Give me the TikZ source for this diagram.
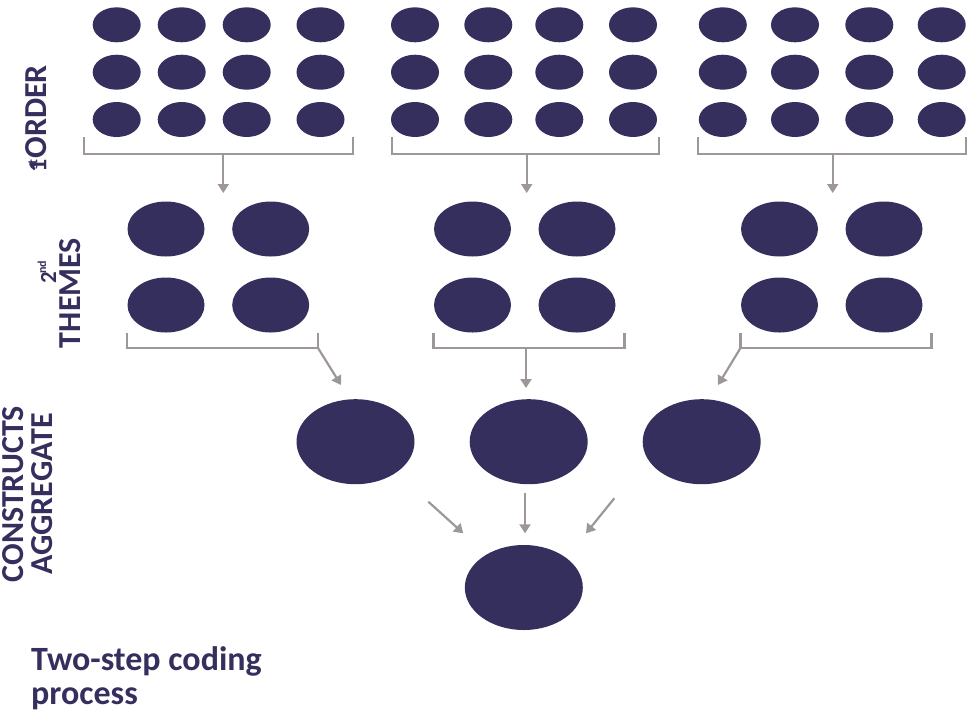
\documentclass[tikz,border=0pt]{standalone}
\usepackage{fontspec}
\setmainfont{Carlito}
\usetikzlibrary{shapes.geometric,arrows.meta}
\definecolor{ink}{HTML}{352F5E}
\definecolor{wire}{HTML}{9D9799}
\begin{document}
\begin{tikzpicture}[x=1pt,y=-1pt,
  dot/.style={ellipse,fill=ink,inner sep=0pt,minimum width=48pt,minimum height=35pt},
  theme/.style={ellipse,fill=ink,inner sep=0pt,minimum width=77pt,minimum height=55pt},
  construct/.style={ellipse,fill=ink,inner sep=0pt,minimum width=118pt,minimum height=85pt},
  bracket/.style={draw=wire,line width=2.2pt},
  flow/.style={draw=wire,line width=2.2pt,-{Triangle[length=9pt,width=11pt]}},
  sidelabel/.style={text=ink,font=\fontsize{32}{29}\selectfont\bfseries,rotate=90,inner sep=0pt},
  title/.style={text=ink,font=\fontsize{34}{31}\selectfont\bfseries,align=left,inner sep=0pt}]
\useasboundingbox (0,0) rectangle (968,713);

% first-order codes: three groups of 4 x 3
\foreach \g/\xa/\xb/\xc/\xd in {1/116.7/181.7/246.7/320.5,2/415/488.3/559.3/633,3/722.8/795/869.3/941.7}{
  \foreach \r/\y in {1/24.8,2/72.2,3/119.5}{
    \node[dot] (s\g\r1) at (\xa,\y) {};
    \node[dot] (s\g\r2) at (\xb,\y) {};
    \node[dot] (s\g\r3) at (\xc,\y) {};
    \node[dot] (s\g\r4) at (\xd,\y) {};
  }
}

% brackets under the first-order groups
\foreach \g/\l/\m/\r in {1/84/223.3/353.3,2/391.7/526.7/659.3,3/698.3/832.7/965.7}{
  \draw[bracket] (\l,137) -- (\l,154) -- (\r,154) -- (\r,137);
  \coordinate (fb\g) at (\m,154);
  \coordinate (ft\g) at (\m,193);
  \draw[flow] (fb\g) -- (ft\g);
}

% second-order themes: three groups of 2 x 2
\foreach \g/\xa/\xb in {1/166/270.7,2/472.5/577,3/779.5/884}{
  \node[theme] (t\g11) at (\xa,229) {};
  \node[theme] (t\g12) at (\xb,229) {};
  \node[theme] (t\g21) at (\xa,305) {};
  \node[theme] (t\g22) at (\xb,305) {};
}

% brackets under the themes
\draw[bracket] (127,333) -- (127,348) -- (318,348) -- (318,333);
\draw[bracket] (433.5,333) -- (433.5,348) -- (624.5,348) -- (624.5,333);
\draw[bracket] (740.5,333) -- (740.5,348) -- (931.5,348) -- (931.5,333);
\coordinate (sb1) at (318,348);
\coordinate (st1) at (341,385);
\coordinate (sb2) at (526,348);
\coordinate (st2) at (526,388);
\coordinate (sb3) at (740.5,348);
\coordinate (st3) at (718,385);
\draw[flow] (sb1) -- (st1);
\draw[flow] (sb2) -- (st2);
\draw[flow] (sb3) -- (st3);

% aggregate constructs
\node[construct] (c1) at (355.5,441.7) {};
\node[construct] (c2) at (528.7,441.7) {};
\node[construct] (c3) at (701.7,441.7) {};
\node[construct] (core) at (523.8,587.5) {};

\coordinate (ca1) at (428.3,501.7);
\coordinate (cb1) at (463.3,533.3);
\coordinate (ca2) at (525,493.3);
\coordinate (cb2) at (525,533.3);
\coordinate (ca3) at (614.3,498.3);
\coordinate (cb3) at (586,533.3);
\draw[flow] (ca1) -- (cb1);
\draw[flow] (ca2) -- (cb2);
\draw[flow] (ca3) -- (cb3);

% level labels
\node[sidelabel] (lab1) at (36,119)
  {{\fontsize{26}{26}\selectfont 1}\kern-10pt\raisebox{9pt}{\fontsize{14}{14}\selectfont st}\kern1pt ORDER};
\node[sidelabel] (lab2a) at (47,272)
  {{\fontsize{23}{23}\selectfont 2}\kern-2pt\raisebox{10pt}{\fontsize{12}{12}\selectfont nd}};
\node[sidelabel] (lab2b) at (70,293) {THEMES};
\node[sidelabel,align=center] (lab3) at (28,494) {CONSTRUCTS\\AGGREGATE};

\node[title,anchor=base west] (cap) at (31,704) {Two-step coding\\[3pt]process};
\end{tikzpicture}
\end{document}
